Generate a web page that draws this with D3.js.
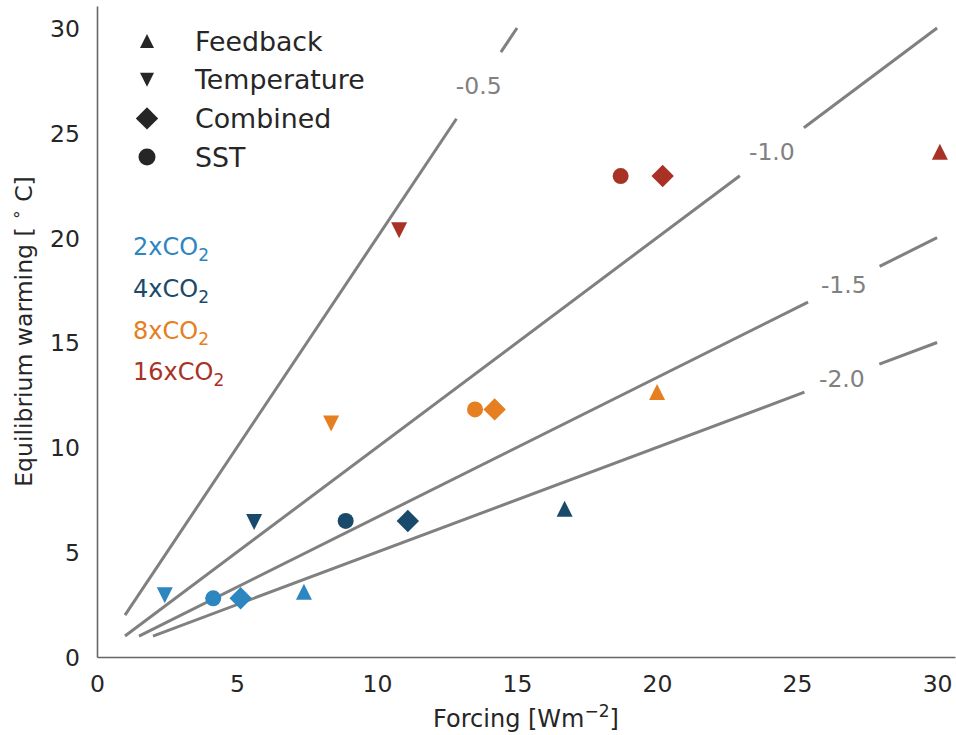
<!DOCTYPE html>
<html>
<head>
<meta charset="utf-8">
<script src="https://cdn.jsdelivr.net/npm/d3@7"></script>
<style>
  body { margin: 0; background: #fff; }
  text { font-family: "DejaVu Sans", sans-serif; }
</style>
</head>
<body>
<svg id="chart" width="956" height="735"></svg>
<script>
// Scenario groups (CO2 multiples) and method markers
const scenarios = ["2xCO2", "4xCO2", "8xCO2", "16xCO2"];
const scenarioPrefix = ["2x", "4x", "8x", "16x"];
const scenarioColors = ["#2e86c1", "#1a4a6b", "#e67e22", "#a93226"];
const methods = ["Feedback", "Temperature", "Combined", "SST"];

// Forcing [W m^-2] per scenario, ordered as in `methods`
const forcing2x  = [7.39, 2.42, 5.13, 4.15];
const forcing4x  = [16.70, 5.61, 11.10, 8.88];
const forcing8x  = [20.0, 8.36, 14.20, 13.50];
const forcing16x = [30.1, 10.79, 20.20, 18.70];
// Equilibrium warming [K] per scenario, ordered as in `methods`
const warming2x  = [3.11, 2.95, 2.80, 2.80];
const warming4x  = [7.07, 6.44, 6.49, 6.49];
const warming8x  = [12.64, 11.14, 11.81, 11.81];
const warming16x = [24.10, 20.36, 22.94, 22.94];

// Constant feedback-parameter lines: warming = forcing / -lambda
const lambdas = [-0.5, -1.0, -1.5, -2.0];
const lambdaLabels = ["-0.5", "-1.0", "-1.5", "-2.0"];
const lineStartX = [1, 1, 1.5, 2];
const lineEndX = [15, 30, 30, 30];
const labelX = [13.63, 24.1, 26.67, 26.6];

const xTicks = [0, 5, 10, 15, 20, 25, 30];
const yTicks = [0, 5, 10, 15, 20, 25, 30];

const forcing = [forcing2x, forcing4x, forcing8x, forcing16x];
const warming = [warming2x, warming4x, warming8x, warming16x];

const svg = d3.select("#chart");
const margin = { left: 97, right: 1, top: 6, bottom: 78 };
const W = 956, H = 735;

const x = d3.scaleLinear().domain([0, 30.64]).range([margin.left, W - margin.right]);
const y = d3.scaleLinear().domain([0, 31.05]).range([H - margin.bottom, margin.top]);

const textColor = "#262626";
const lineGray = "#808080";

// Axes: spines only, no tick marks
const xAxis = d3.axisBottom(x).tickValues(xTicks).tickSize(0).tickPadding(18).tickFormat(d3.format("d"));
const yAxis = d3.axisLeft(y).tickValues(yTicks).tickSize(0).tickPadding(17).tickFormat(d3.format("d"));

const gx = svg.append("g").attr("transform", `translate(0,${y(0)})`).call(xAxis);
const gy = svg.append("g").attr("transform", `translate(${x(0)},0)`).call(yAxis);
[gx, gy].forEach(g => {
  g.select(".domain").attr("stroke", "#666").attr("stroke-width", 1.6);
  g.selectAll(".tick text").attr("fill", textColor).style("font-size", "23.5px")
    .style("font-family", "'DejaVu Sans', sans-serif");
});
gy.selectAll(".tick text").attr("dy", "0.36em");

// Feedback lines with gaps where the labels sit
const gapHalf = 40; // px along the line
const lineGen = d3.line().x(d => x(d[0])).y(d => y(d[1]));
lambdas.forEach((lam, i) => {
  const f = v => v / -lam;
  const cx = x(labelX[i]), cy = y(f(labelX[i]));
  const dx = x(labelX[i] + 1) - cx, dy = y(f(labelX[i] + 1)) - cy;
  const len = Math.hypot(dx, dy);
  const gapX0 = x.invert(cx - gapHalf * dx / len);
  const gapX1 = x.invert(cx + gapHalf * dx / len);
  const segs = [[lineStartX[i], gapX0], [gapX1, lineEndX[i]]];
  segs.forEach(s => {
    svg.append("path")
      .attr("d", lineGen([[s[0], f(s[0])], [s[1], f(s[1])]]))
      .attr("stroke", lineGray).attr("stroke-width", 3).attr("fill", "none");
  });
  svg.append("text")
    .attr("x", cx).attr("y", cy)
    .attr("text-anchor", "middle").attr("dy", "0.36em")
    .attr("fill", lineGray).style("font-size", "23.5px")
    .text(lambdaLabels[i]);
});

// Marker shapes (bbox-centred)
function markerPath(m, s) {
  const h = s / 2;
  if (m === "Feedback") return `M0,${-h}L${h},${h}L${-h},${h}Z`;
  if (m === "Temperature") return `M0,${h}L${h},${-h}L${-h},${-h}Z`;
  if (m === "Combined") { const d = s * 0.7; return `M0,${-d}L${d},0L0,${d}L${-d},0Z`; }
  return d3.arc()({ innerRadius: 0, outerRadius: h, startAngle: 0, endAngle: 2 * Math.PI });
}

// Data points
scenarios.forEach((sc, i) => {
  methods.forEach((m, j) => {
    svg.append("path")
      .attr("d", markerPath(m, 16))
      .attr("transform", `translate(${x(forcing[i][j])},${y(warming[i][j])})`)
      .attr("fill", scenarioColors[i]);
  });
});

// Method legend
const legend = svg.append("g");
methods.forEach((m, j) => {
  const ly = 41 + j * 38.7;
  legend.append("path")
    .attr("d", markerPath(m, m === "Combined" ? 16 : (m === "SST" ? 17 : 14)))
    .attr("transform", `translate(147,${ly})`)
    .attr("fill", textColor);
  legend.append("text")
    .attr("x", 195).attr("y", ly).attr("dy", "0.36em")
    .attr("fill", textColor).style("font-size", "26.8px")
    .text(m);
});

// Scenario colour key
scenarios.forEach((sc, i) => {
  const t = svg.append("text")
    .attr("x", 133).attr("y", 255 + i * 41.8)
    .attr("fill", scenarioColors[i]).style("font-size", "24px");
  t.append("tspan").text(scenarioPrefix[i] + "CO");
  t.append("tspan").attr("dy", 6).style("font-size", "17px").text("2");
});

// Axis titles
const xl = svg.append("text")
  .attr("x", (x.range()[0] + x.range()[1]) / 2).attr("y", 727)
  .attr("text-anchor", "middle").attr("fill", textColor).style("font-size", "24px");
xl.append("tspan").text("Forcing [Wm");
xl.append("tspan").attr("dy", -10).style("font-size", "17px").text("\u22122");
xl.append("tspan").attr("dy", 10).text("]");

const yl = svg.append("text")
  .attr("transform", `translate(32,${(y.range()[0] + y.range()[1]) / 2}) rotate(-90)`)
  .attr("text-anchor", "middle").attr("fill", textColor).style("font-size", "23.5px");
yl.append("tspan").text("Equilibrium warming [ ");
yl.append("tspan").attr("dy", -10).style("font-size", "17px").text("\u2218");
yl.append("tspan").attr("dy", 10).text(" C]");
</script>
</body>
</html>
